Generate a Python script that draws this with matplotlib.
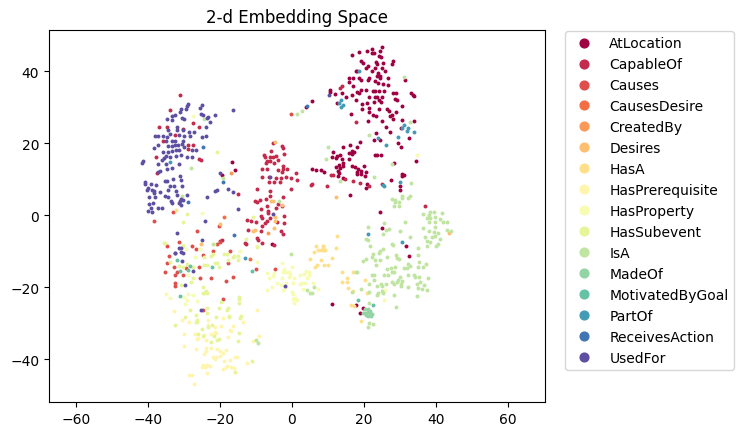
import matplotlib
matplotlib.use('Agg')
import matplotlib.pyplot as plt
from matplotlib.lines import Line2D
import numpy as np

relations = ['AtLocation', 'CapableOf', 'Causes', 'CausesDesire', 'CreatedBy', 'Desires', 'HasA',
             'HasPrerequisite', 'HasProperty', 'HasSubevent', 'IsA', 'MadeOf', 'MotivatedByGoal',
             'PartOf', 'ReceivesAction', 'UsedFor']

# values
at_location = [(25.0,46.6),(18.7,45.4),(20.9,45.6),(22.3,46.0),(24.4,45.6),(16.8,44.5),(22.1,44.9),(22.9,44.9),
    (24.3,44.2),(24.6,43.8),(19.1,42.7),(19.6,42.1),(23.3,42.4),(23.7,42.0),(25.4,42.1),(28.1,42.9),(27.7,42.0),
    (21.0,41.3),(20.6,40.8),(23.2,40.8),(24.9,40.8),(22.1,40.1),(25.8,40.1),(17.7,39.9),(18.2,40.1),(24.0,39.4),
    (23.5,38.7),(24.4,38.7),(21.5,38.2),(18.7,38.0),(15.9,38.0),(17.0,38.0),(26.6,38.1),(19.3,37.5),(21.0,37.5),
    (23.1,37.3),(24.4,38.2),(15.9,37.0),(24.0,36.7),(25.4,36.4),(26.6,36.1),(17.0,35.9),(10.7,34.7),(10.7,34.3),
    (19.3,34.7),(20.6,34.7),(22.4,34.5),(23.1,34.5),(24.2,34.5),(25.6,34.4),(18.0,34.1),(18.6,33.8),(16.8,33.3),
    (15.0,32.9),(13.8,33.9),(12.0,33.6),(21.5,32.7),(23.1,32.9),(23.7,32.7),(24.9,32.7),(24.3,32.0),(28.1,33.8),
    (28.9,33.9),(33.0,33.9),(33.5,33.4),(34.0,33.1),(28.6,32.2),(29.3,32.0),(17.7,32.1),(19.4,30.8),(20.9,31.2),
    (22.8,31.3),(24.6,31.3),(12.4,31.0),(19.4,29.5),(21.5,29.7),(24.3,29.5),(26.3,29.4),(26.9,29.0),(30.6,30.4),
    (21.5,28.5),(28.8,28.5),(27.7,27.8),(27.2,27.6),(22.6,27.8),(23.3,27.5),(16.3,28.2),(21.1,26.2),(25.0,26.2),
    (28.1,26.7),(30.7,26.4),(34.0,26.2),(26.1,24.4),(27.2,23.2),(30.2,24.2),(32.5,21.4),(23.3,22.7),(22.9,20.8),
    (24.4,20.8),(29.5,19.9),(30.2,19.0),(18.8,20.3),(16.1,19.5),(14.2,19.0),(18.0,19.0),(16.8,17.9),(17.2,17.4),
    (15.9,17.2),(11.5,17.4),(13.3,16.7),(16.6,17.0),(12.4,16.3),(11.0,16.0),(12.2,15.8),(13.8,15.6),(15.9,15.5),
    (23.1,16.8),(23.7,16.7),(24.6,16.6),(14.2,14.6),(34.4,14.9),(28.4,14.4),(13.1,14.0),(14.1,13.7),(16.8,13.7),
    (17.5,13.4),(20.0,13.5),(12.1,13.4),(13.3,13.0),(5.5,12.9),(6.8,12.6),(8.2,12.4),(9.0,12.1),(12.9,12.3),
    (18.4,12.8),(19.3,12.3),(18.0,12.1),(20.5,11.9),(13.1,11.6),(18.0,11.4),(19.1,11.4),(20.3,10.9),(12.7,10.8),
    (30.5,11.4),(31.2,11.2),(14.1,10.2),(27.4,9.8),(30.6,10.9),(20.9,8.6),(20.5,7.5),(30.1,8.0),(30.1,7.0),
    (16.1,5.6),(3.8,29.9),(5.7,31.8),(31.4,37.6),(-16.7,14.7),(-15.8,12.5),(-19.4,11.2),(-5.6,-7.9),(24.5,0.9),
    (25.0,-3.7),(31.6,-8.5),(32.4,-11.3),(11.2,-24.6),(17.8,-24.9),(19.6,-25.8),(19.0,-27.2)]

capable_of = [(-31.2,33.4),(-34.0,29.1),(-30.4,23.9),(-27.4,25.6),(-37.0,24.4),(-34.6,24.4),(-25.9,24.6),(-32.4,22.3),
    (-35.7,20.5),(-28.8,19.4),(-27.4,19.4),(-28.8,18.3),(-37.8,16.2),(-25.7,15.5),(-25.4,15.3),(-37.6,11.6),(-14.9,5.8),
    (-5.3,19.9),(-2.9,19.1),(-2.4,18.5),(-5.8,17.9),(-2.2,17.1),(-7.7,16.6),(-7.4,16.0),(-6.1,16.0),(-5.4,16.0),
    (-4.5,16.3),(-7.0,14.9),(-6.1,14.9),(-5.0,14.6),(-3.9,15.4),(-7.3,14.4),(-2.4,13.7),(-8.3,12.8),(-7.0,12.9),
    (-4.0,12.5),(-2.4,12.8),(-1.5,12.8),(-2.9,11.9),(-8.3,10.7),(-6.4,10.7),(-4.3,10.2),(-3.0,10.2),(-1.7,10.7),
    (-6.4,9.1),(-5.1,9.2),(-3.2,9.1),(-9.7,7.2),(-6.0,6.6),(-6.0,5.4),(-7.3,4.6),(-10.3,4.0),(-9.8,3.7),(-8.9,4.2),
    (-2.4,4.9),(-4.0,3.1),(-7.0,2.4),(-8.5,1.8),(-6.6,1.2),(-2.7,2.4),(-4.3,1.9),(-6.6,0.6),(-8.5,-0.2),(-2.2,-0.2),
    (-8.2,-0.8),(-6.1,-0.8),(-12.6,-1.3),(-11.4,-1.6),(-10.1,-1.8),(-7.0,-1.6),(-4.1,-2.0),(-2.2,-2.3),(-7.5,-2.2),
    (-8.4,-3.1),(-12.3,-4.0),(-8.5,-4.5),(-3.1,-4.5),(-2.6,-5.3),(-9.7,-6.4),(-9.4,-6.8),(-13.1,-7.8),(-12.8,-8.0),
    (-8.4,-7.8),(-5.0,-8.3),(-20.0,-7.1),(-19.5,-6.9),(13.8,35.9),(13.3,35.2),(17.8,25.8),(37.0,2.6),(1.1,11.7),
    (-0.4,10.3),(1.5,9.7),(-0.3,7.2),(5.2,8.4),(5.7,8.6),(9.8,8.1),(10.8,11.0),(11.5,11.0),(14.7,10.0),(17.0,9.5),
    (18.9,8.8),(21.4,8.2),(24.9,8.6)]

causes = [(-34.7,-8.6),(-31.5,-7.5),(-27.7,-8.5),(-26.6,-9.3),(-21.8,-9.9),(-20.9,-8.0),(-20.0,-7.4),(-17.2,-9.9),
    (-34.1,-11.3),(-24.6,-11.0),(-34.7,-13.4),(-32.7,-14.3),(-29.5,-14.7),(-25.8,-14.3),(-17.9,-13.3),(-32.0,-15.7),
    (-35.3,-15.9),(-32.5,-16.6),(-30.4,-16.7),(-25.5,-17.5),(-22.6,-17.4),(-16.4,-17.2),(-18.3,-18.2),(-32.5,-18.9),
    (-32.6,-19.6),(-4.6,-14.9),(-9.9,-15.0),(-19.2,-23.3),(-24.8,-26.4),(-33.1,0.8),(-38.2,-1.6),(-26.4,-4.4),
    (-20.4,-3.0),(-0.3,28.1)]

causes_desire = [(-18.8,-0.6),(-11.6,-12.2)]
created_by = [(-16.8,11.6),(-6.7,-5.0)]

desires = [(-5.8,4.0),(-5.4,4.0),(-2.7,2.9),(-4.7,-0.6),(-4.7,-1.6),(-5.0,-3.6),(-10.8,-4.4),(-10.3,-4.1),(-20.0,-2.5),
    (-4.6,20.2),(12.1,4.9),(43.7,-5.0),(-25.3,-7.9)]

has_a = [(6.0,-10.2),(7.1,-9.7),(6.6,-8.5),(8.7,-8.5),(8.5,-9.4),(9.2,-9.7),(5.0,-12.2),(8.1,-12.5),(8.8,-13.8),(9.9,-13.9),
    (7.0,-13.9),(6.4,-14.4),(12.6,-5.8),(12.1,-9.0),(8.7,-8.7),(9.0,-9.7),(8.1,-9.6),(11.0,-11.8),(14.0,-15.9),
    (16.9,-15.9),(15.2,-17.6),(15.2,-18.5),(13.8,-18.5),(20.2,-18.1),(15.7,-20.2),(16.9,-21.2),(20.9,-21.5),(16.3,-24.9),
    (17.2,-25.2),(19.3,-29.3),(-32.2,1.5)]

has_prerequisite = [(-32.8,-26.5),(-30.6,-29.1),(-28.7,-29.8),(-29.9,-33.1),(-30.1,-36.3),(-26.7,-37.1),(-26.9,-32.9),
    (-26.0,-34.0),(-26.4,-34.3),(-24.3,-33.3),(-23.4,-29.2),(-23.2,-30.6),(-21.3,-31.2),(-19.8,-30.7),(-21.4,-32.6),
    (-21.1,-32.7),(-22.4,-33.1),(-24.0,-34.6),(-17.9,-33.8),(-17.2,-31.9),(-16.3,-30.9),(-16.9,-32.2),(-13.5,-29.8),
    (-19.2,-28.6),(-24.0,-36.8),(-22.6,-37.0),(-23.9,-37.7),(-20.7,-37.2),(-20.0,-37.7),(-18.3,-37.5),(-19.1,-38.3),
    (-24.5,-38.6),(-22.0,-39.3),(-21.1,-39.5),(-21.3,-40.0),(-19.9,-39.2),(-19.0,-40.6),(-17.1,-40.3),(-15.8,-39.5),
    (-15.3,-39.4),(-12.4,-41.2),(-24.6,-41.7),(-23.7,-41.7),(-22.8,-41.9),(-25.1,-42.3),(-24.1,-42.3),(-23.6,-43.9),
    (-28.7,-44.5),(-27.7,-44.3),(-27.2,-46.8),(-18.1,-41.9),(-19.1,-42.6),(-18.3,-42.3),(-17.0,-42.3),(-16.2,-42.4),
    (-9.6,-26.4),(-9.1,-33.5),(-10.9,-34.9)]

has_property = [(-6.8,-16.2),(-6.3,-17.5),(-5.2,-16.9),(-4.9,-16.2),(-2.8,-13.4),(-2.2,-15.0),(-1.7,-15.7),(-2.4,-15.7),
    (-0.7,-15.7),(-0.1,-14.5),(-0.5,-16.4),(-2.8,-17.6),(0.7,-17.5),(-0.7,-17.3),(2.1,-16.7),(3.4,-16.4),(3.9,-15.5),
    (4.6,-15.9),(4.8,-16.7),(4.1,-17.6),(3.6,-18.9),(2.1,-19.0),(2.7,-18.9),(0.4,-18.9),(-1.7,-18.9),(-3.0,-19.4),
    (-4.2,-18.9),(-5.5,-19.9),(-6.8,-20.7),(-2.6,-20.7),(-1.7,-19.9),(-0.1,-21.3),(0.4,-21.9),(5.9,-18.9),(7.3,-20.4),
    (3.2,-20.4),(0.9,-22.9),(0.2,-23.2),(1.5,-23.6),(0.7,-24.3),(-35.1,-22.0),(-33.9,-23.1),(-29.0,-22.0),(-27.4,-22.2),
    (-30.0,-22.7),(-29.2,-23.5),(-29.6,-24.8),(-26.3,-23.8),(-30.2,-8.3),(-25.5,-9.3),(-9.8,-8.7),(-9.6,-12.9),
    (-14.4,-9.9),(-29.0,-16.6),(-26.9,-11.6),(25.9,-20.7),(25.7,-23.5),(34.7,16.6),(-27.4,27.4),(-24.9,0.5),(-14.5,-9.9),
    (-25.6,-9.3),(-29.4,-9.3)]

has_subevent = [(-35.4,-7.8),(-33.9,-12.9),(-31.3,-14.1),(-30.3,-14.5),(-29.2,-13.6),(-27.4,-14.5),(-24.3,-13.9),
    (-23.5,-13.9),(-21.4,-13.3),(-20.7,-13.2),(-20.4,-14.5),(-18.8,-10.8),(-18.1,-10.8),(-16.5,-11.5),(-16.0,-11.3),
    (-14.9,-11.3),(-15.1,-12.4),(-17.9,-12.5),(-22.0,-10.8),(-22.4,-11.3),(-24.3,-11.6),(-21.6,-8.1),(-28.1,-18.7),
    (-27.6,-17.6),(-30.8,-19.4),(-24.6,-19.9),(-24.0,-21.0),(-24.3,-21.5),(-24.6,-21.7),(-23.7,-21.5),(-19.8,-24.1),
    (-14.6,-22.7),(-14.6,-23.2),(-14.6,-24.3),(-28.3,-26.3),(-23.5,-25.8),(-23.7,-27.2),(-20.2,-25.9),(-17.9,-25.7),
    (-18.1,-26.3),(-21.2,-28.2),(-17.4,-28.0),(-17.4,-28.4),(-14.1,-27.9),(-14.5,-28.5),(-29.6,-28.2),(-26.6,-27.7),
    (-26.4,-29.1),(-26.6,-29.8),(-26.3,-29.8),(-32.6,-30.4),(-25.1,-31.5),(-23.2,-31.2),(-22.3,-30.6),(-26.0,-32.9),
    (-24.6,-33.5),(-21.6,-33.7),(-22.6,-35.1),(-20.9,-34.6),(-20.2,-34.4),(-14.9,-35.0),(-14.6,-32.7),(-15.7,-43.7),
    (-11.1,-40.6),(-20.9,17.4),(-29.1,0.3),(-30.2,-1.9),(-10.8,-0.4),(-35.5,-7.8),(-12.8,-6.5),(-9.8,-8.8),(-30.2,-8.5)]

is_a = [(27.7,4.4),(28.6,4.2),(28.6,3.5),(28.3,2.4),(29.8,3.5),(29.6,2.4),(30.6,5.4),(30.5,4.7),(32.3,4.7),(32.8,5.2),
    (36.3,0.3),(38.3,0.9),(39.4,0.9),(41.6,0.7),(38.0,0.0),(37.4,-0.9),(38.3,-0.9),(39.7,-0.6),(41.1,-1.1),(41.9,-1.8),
    (43.2,-2.0),(38.1,-1.8),(39.7,-2.0),(36.3,-3.7),(39.7,-3.4),(38.1,-4.4),(39.5,-4.8),(40.5,-5.0),(43.2,-4.1),
    (44.1,-4.4),(36.9,-6.2),(39.0,-6.2),(39.7,-5.7),(41.1,-6.7),(37.6,-7.1),(38.3,-7.6),(40.6,-8.1),(39.9,-8.7),
    (37.6,-8.7),(34.9,-9.0),(21.2,-3.4),(25.6,-2.3),(26.0,-4.2),(27.0,-3.9),(25.4,-5.3),(30.0,-4.4),(31.3,-1.9),
    (32.8,-6.2),(20.6,-6.7),(21.0,-6.9),(21.7,-8.5),(27.7,-8.1),(28.2,-8.3),(25.4,-9.5),(24.4,-9.9),(24.3,-10.6),
    (22.6,-10.8),(22.3,-11.6),(23.1,-12.4),(24.4,-12.4),(26.3,-11.6),(28.9,-11.0),(29.3,-11.9),(29.7,-12.2),(35.1,-11.1),
    (35.4,-13.0),(37.2,-13.6),(35.1,-14.3),(36.5,-14.5),(32.3,-13.6),(32.8,-14.1),(31.2,-14.8),(32.0,-14.8),(28.6,-14.3),
    (27.5,-14.7),(26.3,-15.0),(28.3,-15.7),(19.8,-12.7),(20.5,-12.2),(23.3,-13.9),(17.8,-15.9),(18.2,-15.9),(22.1,-16.6),
    (22.9,-16.7),(25.6,-16.6),(26.8,-16.7),(27.9,-15.9),(30.0,-17.3),(32.3,-16.6),(34.0,-16.7),(34.2,-17.1),(35.3,-17.1),
    (37.7,-17.6),(22.9,-18.0),(29.5,-18.0),(30.5,-18.2),(27.7,-18.7),(28.3,-19.2),(29.3,-18.7),(30.2,-19.2),(30.2,-19.6),
    (21.4,-19.2),(23.5,-19.6),(24.7,-19.2),(24.9,-19.8),(26.1,-19.2),(32.3,-20.1),(34.8,-19.2),(35.6,-18.7),(36.8,-19.5),
    (34.9,-20.3),(36.0,-20.6),(37.4,-20.7),(24.0,-21.5),(24.9,-21.2),(25.4,-21.7),(23.5,-22.2),(21.5,-21.3),(19.1,-20.4),
    (16.6,-21.3),(28.3,-22.1),(34.6,-22.6),(21.5,-24.5),(28.9,-25.4),(21.4,-30.1),(22.4,-30.3),(21.2,-31.1),(31.1,38.4),
    (32.8,25.9),(21.3,22.3),(10.1,19.0),(9.4,15.5),(27.7,14.2),(22.8,10.6),(13.3,9.4),(33.0,8.9),(1.4,28.1),(2.8,28.8),
    (-24.5,26.8),(-28.1,13.2),(-19.1,10.2),(-30.6,5.4),(-3.6,4.0),(-21.8,-8.0),(-0.3,-10.8),(4.1,-20.8),(6.2,-20.0),
    (5.0,-21.5),(5.5,-21.7),(-10.0,-34.6),(-9.3,-35.4)]

made_of = [(20.3,-27.3),(21.2,-26.1),(21.7,-26.6),(19.8,-27.2),(20.5,-27.8),(21.2,-28.1),(22.1,-27.5),(21.7,-27.2),
    (21.0,-26.9),(20.3,-26.1),(21.9,-27.9)]

motivated_by_goal = [(-31.8,-12.4),(-31.1,-15.5),(-28.3,-14.1),(-29.0,-15.3),(-22.3,-14.5),(-11.2,-15.6),(-31.0,-22.4),
    (18.3,-23.7),(22.6,-25.0)]

part_of = [(18.6,40.0),(13.5,32.0),(13.1,31.0),(14.3,30.6),(13.5,30.0),(31.1,25.1),(30.7,24.2),(32.3,24.2),(32.0,23.3),
    (33.9,23.1),(29.5,21.6),(23.8,21.5),(26.2,19.5),(30.1,9.2),(25.4,8.4),(25.6,8.2),(-33.9,14.8),(-13.0,-11.9),
    (21.0,-5.2),(30.5,-7.4)]

receives_action = [(4.1,30.4),(-24.8,19.0),(-19.2,9.2),(-28.8,3.7),(-16.1,-5.4)]

used_for = [(-28.8,30.8),(-29.1,30.2),(-29.4,29.4),(-30.8,29.6),(-31.0,28.7),(-25.0,30.5),(-25.5,29.7),(-16.4,29.3),
    (-25.3,28.2),(-24.8,27.9),(-21.4,27.9),(-32.5,27.9),(-33.2,27.6),(-34.7,26.7),(-33.2,26.5),(-30.6,27.0),(-30.0,26.6),
    (-23.3,27.3),(-23.5,26.9),(-22.7,25.8),(-24.0,24.4),(-32.0,24.5),(-32.0,23.6),(-34.4,23.6),(-30.2,23.7),(-28.5,23.2),
    (-27.3,23.2),(-38.1,22.0),(-37.2,22.0),(-35.7,22.0),(-34.8,21.8),(-33.9,22.5),(-31.4,22.3),(-30.0,22.1),(-28.2,22.0),
    (-24.9,21.6),(-23.8,21.9),(-35.1,20.7),(-32.5,20.7),(-33.2,20.5),(-30.2,20.7),(-37.2,19.5),(-38.4,18.7),(-34.4,19.3),
    (-33.4,19.1),(-32.5,19.5),(-31.6,19.6),(-30.6,19.7),(-30.0,18.8),(-32.2,18.1),(-31.3,18.1),(-33.4,17.9),(-34.4,17.4),
    (-35.7,17.6),(-27.7,18.2),(-26.6,18.2),(-35.1,16.5),(-32.2,16.5),(-30.7,16.7),(-33.9,16.0),(-29.2,16.2),(-27.7,16.0),
    (-35.5,15.8),(-36.2,15.3),(-41.3,14.9),(-41.8,14.4),(-37.2,14.2),(-35.1,14.2),(-31.3,14.1),(-33.4,13.0),(-34.6,12.8),
    (-36.7,12.3),(-37.1,11.9),(-20.0,11.7),(-31.1,10.9),(-30.7,9.7),(-35.3,9.4),(-34.7,9.5),(-33.0,10.0),(-40.8,9.3),
    (-40.8,8.6),(-39.2,8.6),(-33.9,8.0),(-32.8,8.0),(-30.5,8.0),(-37.7,8.4),(-39.9,7.5),(-40.4,7.0),(-38.9,7.0),(-38.2,6.8),
    (-34.5,6.9),(-36.6,6.5),(-32.2,6.8),(-17.7,7.3),(-20.9,7.1),(-21.4,6.7),(-16.3,6.4),(-38.4,6.0),(-35.4,5.4),(-32.0,5.6),
    (-39.6,5.0),(-38.1,4.9),(-34.5,5.1),(-29.2,5.5),(-23.6,5.0),(-30.7,4.4),(-30.2,4.2),(-31.1,3.8),(-33.6,3.8),(-33.4,3.3),
    (-38.6,3.3),(-39.6,3.2),(-31.3,3.3),(-30.7,2.9),(-39.3,2.1),(-37.1,2.0),(-36.0,2.1),(-40.1,1.2),(-38.8,0.8),(-14.9,1.7),
    (-24.1,-1.7),(-31.9,-4.9),(-25.1,-6.8),(-6.0,10.7),(-5.2,0.3),(-32.4,-10.4),(-30.7,-9.2),(-30.2,-10.4),(10.3,33.4),
    (-31.5,-9.2),(-30.7,-10.2),(-32.4,-10.4),(-30.6,-12.8),(-27.6,-15.6),(-29.8,-19.5),(-25.3,-26.3),(-2.0,-19.8)]

series = [at_location, capable_of, causes, causes_desire, created_by, desires, has_a, has_prerequisite,
          has_property, has_subevent, is_a, made_of, motivated_by_goal, part_of, receives_action, used_for]

colors = plt.cm.Spectral(np.linspace(0, 1, len(relations)))

fig = plt.figure(figsize=(7.43, 4.35), dpi=100)
ax = fig.add_axes([49 / 743, 1 - 403 / 435, 496 / 743, 372 / 435])

for pts, color in zip(series, colors):
    pts = np.array(pts)
    ax.scatter(pts[:, 0], pts[:, 1], s=8, color=color, linewidths=0)

ax.set_xlim(-67.5, 70.3)
ax.set_ylim(-51.9, 51.4)
ax.set_title('2-d Embedding Space', fontsize=12)

handles = [Line2D([], [], linestyle='None', marker='o', color=c, markersize=6.3, label=name)
           for name, c in zip(relations, colors)]
ax.legend(handles=handles, bbox_to_anchor=(1.04, 0.9975), loc='upper left', borderaxespad=0)

fig.savefig('out.png', dpi=100)
